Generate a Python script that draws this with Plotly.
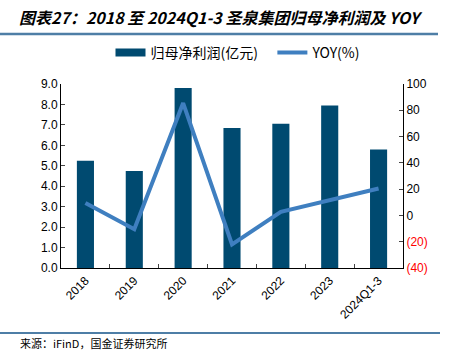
import plotly.graph_objects as go

categories = ["2018", "2019", "2020", "2021", "2022", "2023", "2024Q1-3"]
profit = [5.25, 4.75, 8.8, 6.85, 7.05, 7.95, 5.8]
yoy = [9.5, -10.5, 85.5, -22.0, 2.8, 12.0, 20.5]
left_ticks = [0, 1, 2, 3, 4, 5, 6, 7, 8, 9]
right_ticks = [-40, -20, 0, 20, 40, 60, 80, 100]

BAR_COLOR = "#004a70"
LINE_COLOR = "#3f7fc0"

def rfmt(v):
    if v < 0:
        return '<span style="color:#ff0000">(%d)</span>' % abs(v)
    return str(v)

fig = go.Figure()
fig.add_trace(go.Bar(x=categories, y=profit, name="归母净利润(亿元)", showlegend=False,
                     marker=dict(color=BAR_COLOR, line=dict(width=0)), width=0.35))
# legend entry drawn as a wide rectangle like the reference
fig.add_trace(go.Scatter(x=[None], y=[None], name="归母净利润(亿元)   ", mode="lines",
                         line=dict(color=BAR_COLOR, width=8)))
fig.add_trace(go.Scatter(x=categories, y=yoy, name="YOY(%)", yaxis="y2",
                         mode="lines", line=dict(color=LINE_COLOR, width=4)))

font = "Liberation Sans, Arial, sans-serif"
fig.update_layout(
    width=454, height=351,
    margin=dict(l=61, r=51, t=84, b=83),
    paper_bgcolor="white", plot_bgcolor="white",
    font=dict(family=font, size=12, color="black"),
    showlegend=True,
    legend=dict(orientation="h", xanchor="center", yanchor="middle",
                font=dict(family="Noto Sans CJK SC, " + font, size=14),
                itemwidth=30, tracegroupgap=0, traceorder="normal"),
    bargap=0.65,
    xaxis=dict(type="category", showline=True, linecolor="black", linewidth=1,
               ticks="inside", ticklen=4, tickson="boundaries", tickangle=-45,
               tickfont=dict(size=12), mirror=False),
    yaxis=dict(range=[0, 9], tickvals=left_ticks,
               ticktext=["%.1f" % v for v in left_ticks],
               showline=True, linecolor="black", linewidth=1, ticks="inside",
               ticklen=4, showgrid=False, zeroline=False),
    yaxis2=dict(range=[-40, 100], tickvals=right_ticks,
                ticktext=[rfmt(v) for v in right_ticks],
                overlaying="y", side="right", showline=True, linecolor="black",
                linewidth=1, ticks="inside", ticklen=4, showgrid=False, zeroline=False),
)

H_plot = 351 - 84 - 83
W_plot = 454 - 61 - 51
def py(pix):
    return (351 - 83 - pix) / H_plot
def px(pix):
    return (pix - 61) / W_plot

fig.add_annotation(xref="paper", yref="paper", x=px(17), y=py(17), xanchor="left",
                   yanchor="middle",
                   text="<b><i>图表27：2018 至 2024Q1-3 圣泉集团归母净利润及 YOY</i></b>",
                   showarrow=False,
                   font=dict(family="Noto Sans CJK SC, sans-serif", size=16, color="black"))
fig.add_shape(type="line", xref="paper", yref="paper", x0=px(0), x1=px(438),
              y0=py(34), y1=py(34), line=dict(color="#4e7ea6", width=2.5))
fig.add_shape(type="line", xref="paper", yref="paper", x0=px(0), x1=px(440),
              y0=py(333), y1=py(333), line=dict(color="#4e7ea6", width=2))
fig.add_annotation(xref="paper", yref="paper", x=px(18), y=py(343), xanchor="left",
                   yanchor="middle", text="来源：iFinD，国金证券研究所", showarrow=False,
                   font=dict(family="Noto Sans CJK SC, sans-serif", size=11, color="black"))
fig.update_layout(legend=dict(x=px(238), y=py(53)))

fig.write_html("out.html")
